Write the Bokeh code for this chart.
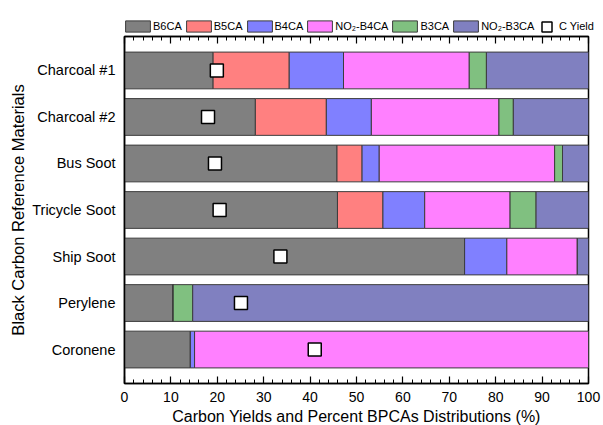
from bokeh.plotting import figure
from bokeh.layouts import column
from bokeh.models import (ColumnDataSource, FactorRange, Range1d, LinearAxis,
                          SingleIntervalTicker, Legend, LegendItem)
from bokeh.embed import file_html
from bokeh.resources import INLINE

materials = ["Charcoal #1", "Charcoal #2", "Bus Soot", "Tricycle Soot",
             "Ship Soot", "Perylene", "Coronene"]
B6CA = [19.1, 28.2, 45.8, 45.9, 73.3, 10.5, 14.2]
B5CA = [16.4, 15.3, 5.4, 9.8, 0.0, 0.0, 0.0]
B4CA = [11.7, 9.7, 3.7, 9.0, 9.1, 0.0, 0.9]
NO2_B4CA = [27.1, 27.5, 37.8, 18.4, 15.2, 0.0, 84.9]
B3CA = [3.7, 3.1, 1.7, 5.6, 0.0, 4.2, 0.0]
NO2_B3CA = [22.0, 16.2, 5.6, 11.3, 2.4, 85.3, 0.0]
C_yield = [19.9, 18.0, 19.5, 20.5, 33.6, 25.1, 41.0]

series = ["B6CA", "B5CA", "B4CA", "NO2_B4CA", "B3CA", "NO2_B3CA"]
labels = ["B6CA", "B5CA", "B4CA", "NO\u2082-B4CA", "B3CA", "NO\u2082-B3CA"]
colors = ["#808080", "#FF8080", "#8080FF", "#FF80FF", "#80C080", "#8080C0"]

src = ColumnDataSource(dict(material=materials, B6CA=B6CA, B5CA=B5CA, B4CA=B4CA,
                            NO2_B4CA=NO2_B4CA, B3CA=B3CA, NO2_B3CA=NO2_B3CA,
                            cyield=C_yield))

FONT = "Liberation Sans"
BLACK = "#000000"
EDGE = "#3c3c3c"

# ------------- legend strip: a separate figure, so the legend is not clipped -------------
# (its glyphs use the real data but lie outside this strip's x range, so only the
#  legend entries are visible)
lf = figure(frame_width=603, frame_height=33, min_border_top=2, min_border_left=0,
            min_border_right=0, min_border_bottom=0,
            x_range=Range1d(-2, -1), y_range=FactorRange(factors=materials[::-1]),
            x_axis_location=None, y_axis_location=None,
            output_backend="svg", toolbar_location=None)
lf.grid.visible = False
lf.outline_line_color = None
lf.border_fill_color = "white"
lf.background_fill_color = "white"

leg_bars = lf.hbar_stack(series, y="material", height=0.79, color=colors,
                         line_color=EDGE, line_width=1, source=src)
leg_sq = lf.scatter(x="cyield", y="material", marker="square", size=13,
                    fill_color="white", line_color="black", line_width=1.5, source=src)

leg1 = Legend(items=[LegendItem(label=l, renderers=[r]) for l, r in zip(labels, leg_bars)],
              orientation="horizontal", location=(122, 2.5),
              glyph_width=31, glyph_height=14, label_standoff=0, spacing=1,
              padding=0, margin=0, label_height=14,
              label_text_font=FONT, label_text_font_size="11px",
              label_text_color=BLACK,
              background_fill_alpha=0, border_line_alpha=0)
lf.add_layout(leg1)

leg2 = Legend(items=[LegendItem(label="C Yield", renderers=[leg_sq])],
              orientation="horizontal", location=(534, -3.5),
              glyph_width=25, glyph_height=25, label_standoff=0, spacing=0,
              padding=0, margin=0,
              label_text_font=FONT, label_text_font_size="11px",
              label_text_color=BLACK,
              background_fill_alpha=0, border_line_alpha=0)
lf.add_layout(leg2)

# ---------------- main chart ----------------
p = figure(y_range=FactorRange(factors=materials[::-1], range_padding=0.23,
                               range_padding_units="absolute"),
           x_range=Range1d(0, 100),
           frame_width=464, frame_height=347,
           min_border_left=124, min_border_right=15,
           min_border_top=1, min_border_bottom=42,
           output_backend="svg", toolbar_location=None)

bars = p.hbar_stack(series, y="material", height=0.79, color=colors,
                    line_color=EDGE, line_width=1, source=src)
sq = p.scatter(x="cyield", y="material", marker="square", size=13,
               fill_color="white", line_color="black", line_width=1.5, source=src)

p.xgrid.visible = False
p.ygrid.visible = False
p.outline_line_color = BLACK
p.outline_line_width = 1.5
p.background_fill_color = "white"

ticker = SingleIntervalTicker(interval=10, num_minor_ticks=5)
xa = p.xaxis[0]
xa.ticker = ticker
xa.axis_label = "Carbon Yields and Percent BPCAs Distributions (%)"
xa.axis_label_text_font = FONT
xa.axis_label_text_font_size = "16px"
xa.axis_label_text_font_style = "normal"
xa.axis_label_text_color = BLACK
xa.axis_label_standoff = 3
xa.major_label_text_font = FONT
xa.major_label_text_font_size = "14px"
xa.major_label_text_color = BLACK
xa.major_label_standoff = 8
xa.major_tick_in = 7
xa.major_tick_out = 0
xa.minor_tick_in = 4
xa.minor_tick_out = 0
xa.axis_line_width = 1.5
xa.axis_line_color = BLACK
xa.major_tick_line_color = BLACK
xa.minor_tick_line_color = BLACK
xa.major_tick_line_width = 1.2
xa.minor_tick_line_width = 1

top = LinearAxis(ticker=ticker, major_label_text_font_size="1px",
                 major_label_text_color=None,
                 major_label_standoff=0, major_tick_in=7, major_tick_out=0,
                 minor_tick_in=4, minor_tick_out=0, axis_line_width=1.5,
                 axis_line_color=BLACK, major_tick_line_color=BLACK,
                 minor_tick_line_color=BLACK,
                 major_tick_line_width=1.2, minor_tick_line_width=1)
p.add_layout(top, "above")

ya = p.yaxis[0]
ya.axis_label = "Black Carbon Reference Materials"
ya.axis_label_text_font = FONT
ya.axis_label_text_font_size = "16.5px"
ya.axis_label_text_font_style = "normal"
ya.axis_label_text_color = BLACK
ya.axis_label_standoff = 2
ya.major_label_text_font = FONT
ya.major_label_text_font_size = "14.5px"
ya.major_label_text_color = BLACK
ya.major_label_standoff = 9
ya.major_tick_out = 0
ya.major_tick_in = 0
ya.major_tick_line_color = None
ya.minor_tick_line_color = None
ya.axis_line_width = 1.5
ya.axis_line_color = BLACK

layout = column(lf, p, spacing=0)
open("out.html", "w").write(file_html(layout, INLINE))
